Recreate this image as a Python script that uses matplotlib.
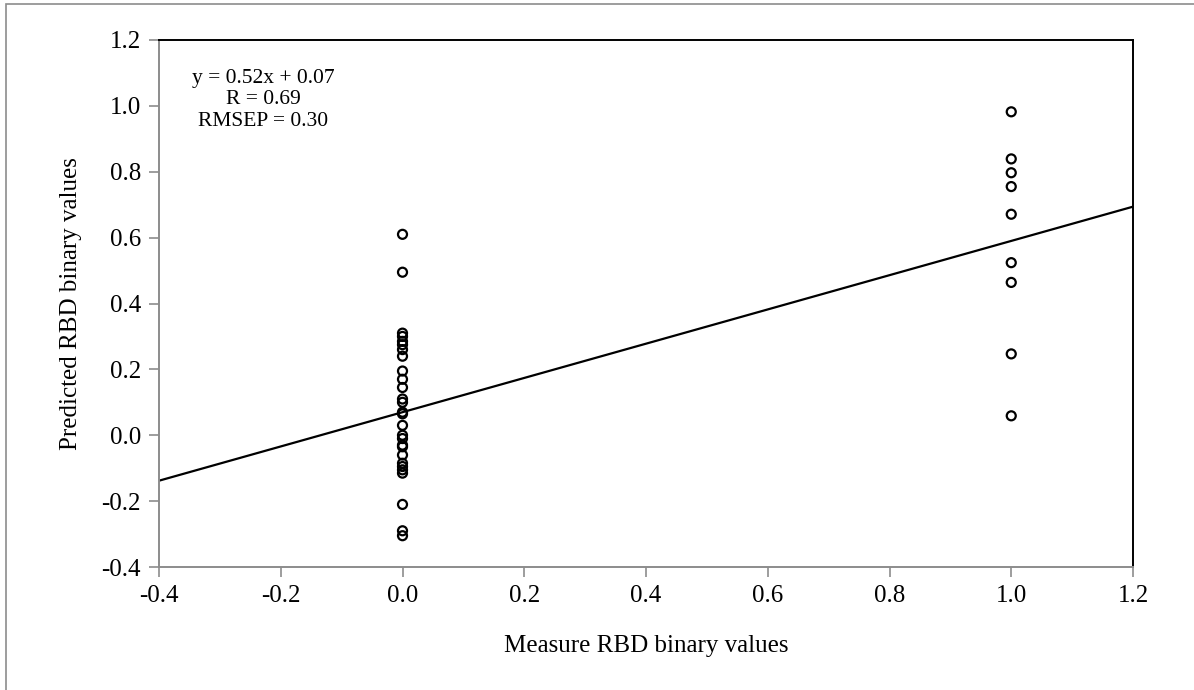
import matplotlib
matplotlib.use("Agg")
import matplotlib.pyplot as plt
from matplotlib.patches import Rectangle
import numpy as np

# Data
measured_zero = [0.0] * 28
predicted_zero = [0.61, 0.495, 0.31, 0.30, 0.285, 0.275, 0.26, 0.24, 0.195, 0.17,
                  0.145, 0.11, 0.10, 0.07, 0.065, 0.03, 0.0, -0.01, -0.03, -0.035,
                  -0.06, -0.085, -0.095, -0.105, -0.115, -0.21, -0.29, -0.305]
measured_one = [1.0] * 9
predicted_one = [0.982, 0.839, 0.797, 0.755, 0.671, 0.524, 0.464, 0.247, 0.059]
slope = 0.52
intercept = 0.07
x_ticks = [-0.4, -0.2, 0.0, 0.2, 0.4, 0.6, 0.8, 1.0, 1.2]
y_ticks = [-0.4, -0.2, 0.0, 0.2, 0.4, 0.6, 0.8, 1.0, 1.2]
annot_lines = ["y = 0.52x + 0.07", "R = 0.69", "RMSEP = 0.30"]

plt.rcParams['font.family'] = ['Liberation Serif', 'DejaVu Serif']

fig = plt.figure(figsize=(11.94, 6.90), dpi=100)
fig.patches.append(Rectangle((6/1194, -0.1), 1.2, 1 - 4/690 + 0.1,
                             transform=fig.transFigure, fill=False,
                             edgecolor='#8c8c8c', linewidth=1.2))
ax = fig.add_axes([159/1194, 1 - 567/690, (1133-159)/1194, (567-40)/690])

xs = measured_zero + measured_one
ys = predicted_zero + predicted_one
ax.scatter(xs, ys, s=42, facecolors='none', edgecolors='black', linewidths=1.6, zorder=3)

xl = np.array([-0.4, 1.2])
ax.plot(xl, slope * xl + intercept, color='black', linewidth=1.6, zorder=2)

ax.set_xlim(-0.4, 1.2)
ax.set_ylim(-0.4, 1.2)
ax.set_xticks(x_ticks)
ax.set_yticks(y_ticks)
ax.set_xticklabels([f"{v:.1f}" for v in x_ticks])
ax.set_yticklabels([f"{v:.1f}" for v in y_ticks])
ax.tick_params(axis='both', direction='out', length=7, width=1.2, colors='#8c8c8c',
               labelcolor='black', labelsize=18, pad=6)
for s in ['left', 'bottom']:
    ax.spines[s].set_color('#8c8c8c')
    ax.spines[s].set_linewidth(1.4)
for s in ['top', 'right']:
    ax.spines[s].set_color('black')
    ax.spines[s].set_linewidth(1.4)

ax.set_xlabel("Measure RBD binary values", fontsize=18, labelpad=20)
ax.set_ylabel("Predicted RBD binary values", fontsize=18, labelpad=14)

for i, t in enumerate(annot_lines):
    fig.text(263/1194, 1 - (78 + 22*i)/690, t, ha='center', va='center', fontsize=15.5)

fig.savefig("out.png", dpi=100)
